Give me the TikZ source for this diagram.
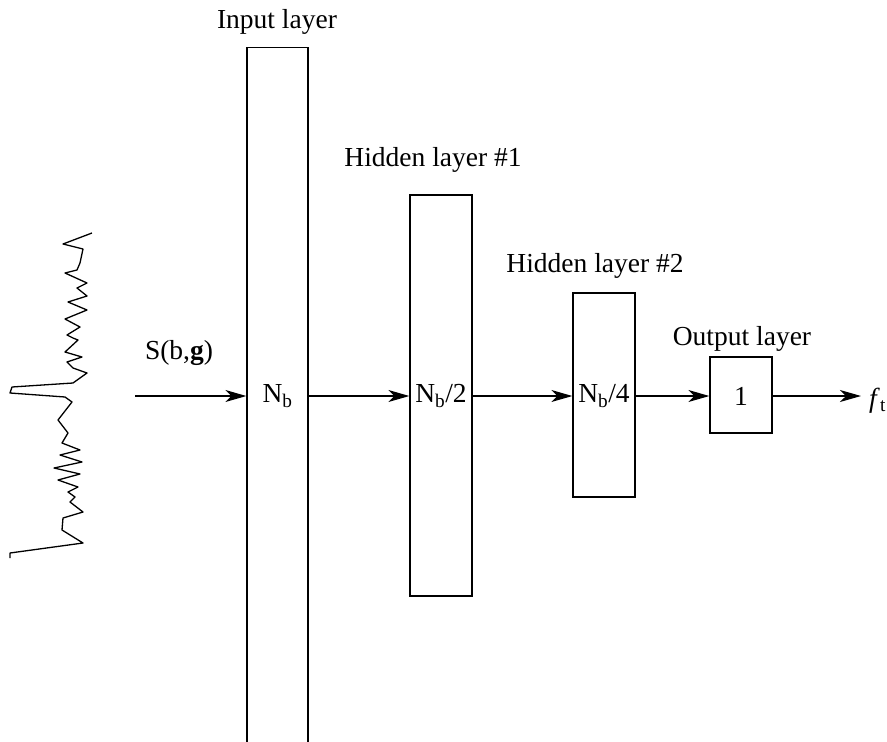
\documentclass[tikz,border=0pt]{standalone}
\usepackage{fontspec}
\setmainfont{Liberation Serif}
\usetikzlibrary{arrows.meta}
\begin{document}
\begin{tikzpicture}[x=1pt,y=-1pt,
  layer/.style={draw, line width=1.3pt, inner sep=0pt, fill=white},
  arr/.style={line width=1.2pt, -{Stealth[length=21pt,width=12pt,inset=6pt]}},
  lbl/.style={font=\fontsize{27.5}{32}\selectfont, inner sep=0pt}]
\useasboundingbox (0,0) rectangle (887,742);
\coordinate (ay) at (0,396);
% layers
\node[layer, minimum width=61pt, minimum height=720pt, anchor=north] (in) at (277.5,47) {};
\node[layer, minimum width=62pt, minimum height=401pt] (h1) at (441,395.5) {};
\node[layer, minimum width=62pt, minimum height=204pt] (h2) at (604,395) {};
\node[layer, minimum width=62pt, minimum height=76pt] (out) at (741,395) {};
% texts in boxes
\node[lbl] (tin) at (in |- ay) {N\textsubscript{b}};
\node[lbl] (th1) at (h1 |- ay) {N\textsubscript{b}/2};
\node[lbl] (th2) at (h2 |- ay) {N\textsubscript{b}/4};
\node[lbl] (tout) at (out |- ay) {1};
% titles
\node[lbl] (lin) at (277,22) {Input layer};
\node[lbl] (lh1) at (433,160) {Hidden layer \#1};
\node[lbl] (lh2) at (595,266) {Hidden layer \#2};
\node[lbl] (lout) at (742,339) {Output layer};
\node[lbl] (ls) at (179,353) {S(b,\textbf{g})};
\node[lbl, anchor=west] (ft) at (869,401) {\textit{f}\textsubscript{t}};
% arrows
\coordinate (src) at (135,396);
\coordinate (dst) at (861,396);
\draw[arr] (src) -- (in.west |- ay);
\draw[arr] (in.east |- ay) -- (h1.west |- ay);
\draw[arr] (h1.east |- ay) -- (h2.west |- ay);
\draw[arr] (h2.east |- ay) -- (out.west |- ay);
\draw[arr] (out.east |- ay) -- (dst);
% signal
\draw[line width=1.3pt, line join=round] (92,233) -- (63,244) -- (83,249) -- (80,263) -- (77,270) -- (65,273) -- (87,283) -- (77,288) -- (87,296) -- (68,302) -- (87,310) -- (65,319) -- (80,327) -- (67,335) -- (73,338) -- (78,340) -- (65,352) -- (82,357) -- (67,362) -- (73,368) -- (87,373) -- (73,383) -- (12,387) -- (10,393) -- (65,397) -- (72,402) -- (58,420) -- (68,433) -- (62,443) -- (80,450) -- (60,455) -- (82,462) -- (54,468) -- (80,474) -- (58,480) -- (78,487) -- (68,492) -- (75,497) -- (70,502) -- (83,512) -- (63,518) -- (62,530) -- (83,543) -- (10,553) -- (10,558);
\end{tikzpicture}
\end{document}
